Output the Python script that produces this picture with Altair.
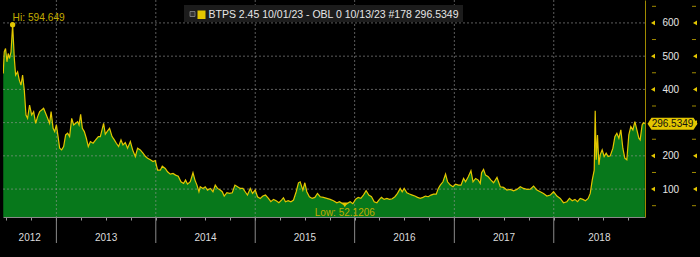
import altair as alt
import pandas as pd

# ---- data (decimal year, spread value) ----
years_frac = [
    2012.467, 2012.477, 2012.490, 2012.504, 2012.517, 2012.530, 2012.545, 2012.561, 2012.578, 2012.591,
    2012.611, 2012.628, 2012.645, 2012.661, 2012.678, 2012.695, 2012.711, 2012.731, 2012.752, 2012.772,
    2012.792, 2012.812, 2012.832, 2012.852, 2012.872, 2012.892, 2012.912, 2012.932, 2012.947, 2012.967,
    2012.983, 2013.000, 2013.017, 2013.033, 2013.053, 2013.073, 2013.093, 2013.113, 2013.133, 2013.154,
    2013.174, 2013.194, 2013.214, 2013.228, 2013.244, 2013.261, 2013.281, 2013.301, 2013.321, 2013.342,
    2013.369, 2013.395, 2013.422,
    2013.442, 2013.475, 2013.492, 2013.515, 2013.535, 2013.560, 2013.583, 2013.603, 2013.626, 2013.650,
    2013.670, 2013.693, 2013.716, 2013.744, 2013.767, 2013.794, 2013.817, 2013.844, 2013.871, 2013.897,
    2013.917, 2013.945, 2013.972, 2013.995, 2014.018, 2014.045, 2014.065, 2014.095, 2014.118, 2014.146,
    2014.173, 2014.199, 2014.226, 2014.253, 2014.279, 2014.299, 2014.319, 2014.347, 2014.374, 2014.394,
    2014.414, 2014.434,
    2014.447, 2014.474, 2014.497, 2014.520, 2014.548, 2014.575, 2014.598, 2014.621, 2014.648, 2014.668,
    2014.688, 2014.715, 2014.742, 2014.769, 2014.796, 2014.822, 2014.849, 2014.876, 2014.899, 2014.922,
    2014.950, 2014.973, 2015.000, 2015.023, 2015.050, 2015.077, 2015.103, 2015.133, 2015.157, 2015.184,
    2015.211, 2015.238, 2015.264, 2015.284, 2015.304, 2015.331, 2015.359, 2015.385, 2015.412, 2015.435,
    2015.452, 2015.479, 2015.499, 2015.519, 2015.545, 2015.573, 2015.600, 2015.626, 2015.653, 2015.686,
    2015.720, 2015.754, 2015.787, 2015.821, 2015.847, 2015.874, 2015.901, 2015.927, 2015.955, 2015.982,
    2016.008, 2016.035, 2016.062, 2016.088, 2016.115, 2016.142, 2016.169, 2016.196, 2016.223, 2016.249,
    2016.269, 2016.296, 2016.323, 2016.349, 2016.377, 2016.404, 2016.430,
    2016.457, 2016.477, 2016.497, 2016.524, 2016.550, 2016.578, 2016.604, 2016.631, 2016.658, 2016.685,
    2016.711, 2016.738, 2016.765, 2016.792, 2016.819, 2016.839, 2016.859, 2016.886, 2016.912, 2016.932,
    2016.960, 2016.987, 2017.013, 2017.040, 2017.067, 2017.093, 2017.113, 2017.140, 2017.167, 2017.188,
    2017.214, 2017.241, 2017.261, 2017.274, 2017.294, 2017.314, 2017.341, 2017.369, 2017.395, 2017.429,
    2017.462, 2017.495, 2017.529, 2017.563, 2017.596, 2017.630, 2017.663, 2017.696, 2017.730, 2017.764,
    2017.797, 2017.831, 2017.864, 2017.897, 2017.931, 2017.965, 2017.998, 2018.032, 2018.065, 2018.098,
    2018.132, 2018.158, 2018.186, 2018.213, 2018.239, 2018.266, 2018.293, 2018.319, 2018.346, 2018.367,
    2018.387, 2018.407, 2018.417, 2018.427, 2018.440, 2018.454, 2018.467, 2018.487, 2018.507, 2018.527,
    2018.547, 2018.568, 2018.595, 2018.615, 2018.635, 2018.655, 2018.675, 2018.695, 2018.715, 2018.735,
    2018.755, 2018.775, 2018.796, 2018.816, 2018.836, 2018.856, 2018.869, 2018.889, 2018.902, 2018.916,
]
values = [
    448, 513, 523, 483, 508, 493, 513, 594.649, 493, 443,
    453, 428, 413, 443, 398, 323, 313, 353, 323, 333,
    298, 318, 333, 338, 343, 328, 313, 298, 333, 283,
    273, 293, 258, 223, 218, 228, 263, 268, 258, 313,
    293, 298, 303, 293, 325, 283, 273, 253, 228, 243,
    238, 248, 258,
    258, 298, 265, 275, 283, 258, 248, 238, 228, 248,
    233, 240, 223, 243, 218, 198, 223, 218, 208, 198,
    193, 188, 183, 186, 157, 157, 169, 162, 152, 145,
    147, 142, 139, 122, 117, 127, 115, 122, 149, 127,
    112, 92,
    107, 102, 107, 97, 102, 92, 112, 102, 97, 92,
    79, 89, 87, 89, 112, 107, 102, 102, 92, 82,
    102, 87, 97, 77, 72, 79, 82, 72, 62, 69,
    65, 59, 67, 74, 62, 65, 62, 67, 92, 119,
    122, 97, 119, 92, 77, 72, 75, 87, 77, 75,
    72, 69, 65, 59, 62, 57, 52.1206, 57, 62, 56,
    69, 75, 72, 82, 95, 82, 77, 62, 59, 69,
    75, 69, 72, 69, 71, 77, 87,
    102, 92, 102, 89, 85, 82, 79, 75, 72, 75,
    79, 77, 82, 85, 85, 102, 112, 122, 145, 122,
    112, 107, 115, 112, 112, 132, 122, 137, 155, 122,
    132, 127, 117, 149, 159, 142, 137, 127, 119, 135,
    107, 105, 97, 99, 95, 99, 107, 102, 99, 100,
    109, 97, 92, 87, 79, 82, 92, 79, 72, 59,
    62, 72, 65, 69, 62, 72, 69, 65, 72, 87,
    127, 157, 336, 188, 263, 173, 203, 218, 198, 208,
    198, 200, 223, 258, 268, 253, 278, 223, 193, 188,
    263, 288, 278, 303, 278, 253, 248, 293, 300, 296.5349,
]

year_ticks = [2013, 2014, 2015, 2016, 2017, 2018]
year_labels = [2012, 2013, 2014, 2015, 2016, 2017, 2018]
y_major = [100, 200, 300, 400, 500, 600]
y_minor = [50, 150, 250, 350, 450, 550, 650]
legend_text = "BTPS 2.45 10/01/23 - OBL 0 10/13/23 #178 296.5349"
hi_value = 594.649
low_value = 52.1206
last_value = 296.5349

FMT = "%Y-%m-%dT%H:%M:%S"


def to_date(t):
    y = int(t)
    n = 366 if y % 4 == 0 else 365
    return pd.Timestamp(y, 1, 1) + pd.Timedelta(days=(t - y) * n)


df = pd.DataFrame({"date": [to_date(t).strftime(FMT) for t in years_frac], "value": values})

x_start = pd.Timestamp(2012, 6, 19)
x_end = pd.Timestamp(2018, 12, 2)

# year label positions: middle of visible part of each year
lab_rows = []
for yr in year_labels:
    lo = max(x_start, pd.Timestamp(yr, 1, 1))
    hi = min(x_end, pd.Timestamp(yr + 1, 1, 1))
    lab_rows.append({"date": (lo + (hi - lo) / 2).strftime(FMT), "label": str(yr)})
lab_df = pd.DataFrame(lab_rows)
ytick_df = pd.DataFrame({"date": [pd.Timestamp(y, 1, 1).strftime(FMT) for y in year_ticks]})
major_df = pd.DataFrame({"value": y_major})
minor_df = pd.DataFrame({"value": y_minor})
# the last-value badge hides the axis label it sits on
y_label_values = [v for v in y_major if abs(v - last_value) > 20]

hi_idx = values.index(hi_value)
low_idx = values.index(low_value)
hi_df = df.iloc[[hi_idx]].assign(label="Hi: " + str(hi_value))
low_df = df.iloc[[low_idx]].assign(label="Low: " + str(low_value))
last_df = pd.DataFrame({"value": [last_value], "label": [f"{last_value:.4f}"]})
legend_df = pd.DataFrame({"label": [legend_text]})

FONT = "Liberation Sans"
GREEN = "#07781b"
YELLOW = "#e3c600"
OLIVE = "#c2ab00"
GRID = "#9a9a9a"

x_axis = alt.Axis(
    tickCount=alt.TimeIntervalStep(interval="month", step=3),
    labels=False, ticks=True, tickSize=3, tickColor="#9a9a9a",
    domainColor="#8a8a8a", grid=False, title=None,
)
y_axis = alt.Axis(
    orient="right", values=y_label_values, ticks=False, grid=False,
    domainColor="#a08a00", labelColor="#e6e6e6", labelFont=FONT,
    labelFontSize=10, labelPadding=17, labelAlign="left", title=None,
)
x_scale = alt.Scale(domain=[alt.DateTime(year=2012, month=6, date=19),
                            alt.DateTime(year=2018, month=12, date=2)])
y_scale = alt.Scale(domain=[16, 669], nice=False, zero=False)

X = alt.X("date:T", scale=x_scale, axis=x_axis)
Y = alt.Y("value:Q", scale=y_scale, axis=y_axis)

area = alt.Chart(df).mark_area(color=GREEN, clip=True, opacity=1).encode(
    x=X, y=Y, y2=alt.value(217)
)
line = alt.Chart(df).mark_line(color=YELLOW, strokeWidth=1.2, clip=True).encode(x=X, y=Y)

hgrid = alt.Chart(major_df).mark_rule(color=GRID, strokeDash=[2, 2], strokeWidth=1, opacity=0.6).encode(y=Y)
vgrid = alt.Chart(ytick_df).mark_rule(color=GRID, strokeDash=[2, 2], strokeWidth=1, opacity=0.6).encode(x=X)

sep = alt.Chart(ytick_df).mark_rule(color="#8a8a8a", strokeWidth=1).encode(
    x=X, y=alt.value(217), y2=alt.value(243)
)
ylabels = alt.Chart(lab_df).mark_text(
    font=FONT, fontSize=10, color="#dcdcdc", baseline="middle", align="center"
).encode(x=X, y=alt.value(238), text="label:N")

minor_l = alt.Chart(minor_df).mark_rule(color="#a08a00", strokeWidth=1).encode(
    y=Y, x=alt.value(649), x2=alt.value(653)
)
minor_r = alt.Chart(minor_df).mark_rule(color="#a08a00", strokeWidth=1).encode(
    y=Y, x=alt.value(689), x2=alt.value(693)
)
major_l = alt.Chart(major_df).mark_point(
    shape="triangle-left", filled=True, size=22, color=YELLOW, opacity=1
).encode(y=Y, x=alt.value(650))
major_r = alt.Chart(major_df).mark_point(
    shape="triangle-left", filled=True, size=22, color=YELLOW, opacity=1
).encode(y=Y, x=alt.value(692))

hi_pt = alt.Chart(hi_df).mark_point(filled=True, size=28, color=YELLOW, opacity=1).encode(x=X, y=Y)
hi_txt = alt.Chart(hi_df).mark_text(
    font=FONT, fontSize=10.2, color=OLIVE, align="left", baseline="alphabetic", dx=0, dy=-4
).encode(x=X, y=Y, text="label:N")
low_pt = alt.Chart(low_df).mark_point(
    shape="triangle-down", filled=True, size=30, color=YELLOW, opacity=1
).encode(x=X, y=Y)
low_txt = alt.Chart(low_df).mark_text(
    font=FONT, fontSize=10, color=OLIVE, align="center", baseline="alphabetic", dy=11
).encode(x=X, y=Y, text="label:N")

badge_path = "M -1 0 L -0.84 -0.24 L 0.84 -0.24 L 1 0 L 0.84 0.24 L -0.84 0.24 Z"
last_box = alt.Chart(last_df).mark_point(
    shape=badge_path, filled=True, size=2500, color=YELLOW, opacity=1
).encode(y=Y, x=alt.value(669.5))
last_txt = alt.Chart(last_df).mark_text(
    font=FONT, fontSize=10, color="#111111", align="center", baseline="middle"
).encode(y=Y, x=alt.value(669.5), text="label:N")

leg_box = alt.Chart(legend_df).mark_rect(color="#1c1c1c").encode(
    x=alt.value(181), x2=alt.value(460), y=alt.value(5), y2=alt.value(22)
)
leg_icon = alt.Chart(legend_df).mark_rect(fill="#333333", stroke="#8a8a8a", strokeWidth=0.8).encode(
    x=alt.value(187), x2=alt.value(192), y=alt.value(11.5), y2=alt.value(16.5)
)
leg_sq = alt.Chart(legend_df).mark_rect(color=YELLOW).encode(
    x=alt.value(194.5), x2=alt.value(202.5), y=alt.value(10.5), y2=alt.value(19)
)
leg_txt = alt.Chart(legend_df).mark_text(
    font=FONT, fontSize=10.5, color="#e6e6e6", align="left", baseline="middle"
).encode(x=alt.value(205.5), y=alt.value(15), text="label:N")

chart = alt.layer(
    area, hgrid, vgrid, line, sep, ylabels,
    minor_l, minor_r, major_l, major_r,
    hi_pt, hi_txt, low_pt, low_txt, last_box, last_txt,
    leg_box, leg_icon, leg_sq, leg_txt,
).properties(
    width=642, height=217,
    padding={"left": 3, "top": 0, "right": 55, "bottom": 40},
    autosize=alt.AutoSizeParams(type="none"),
    background="black",
).configure_view(strokeWidth=0)

chart.save("out.html", embed_options={"renderer": "svg", "actions": False})
